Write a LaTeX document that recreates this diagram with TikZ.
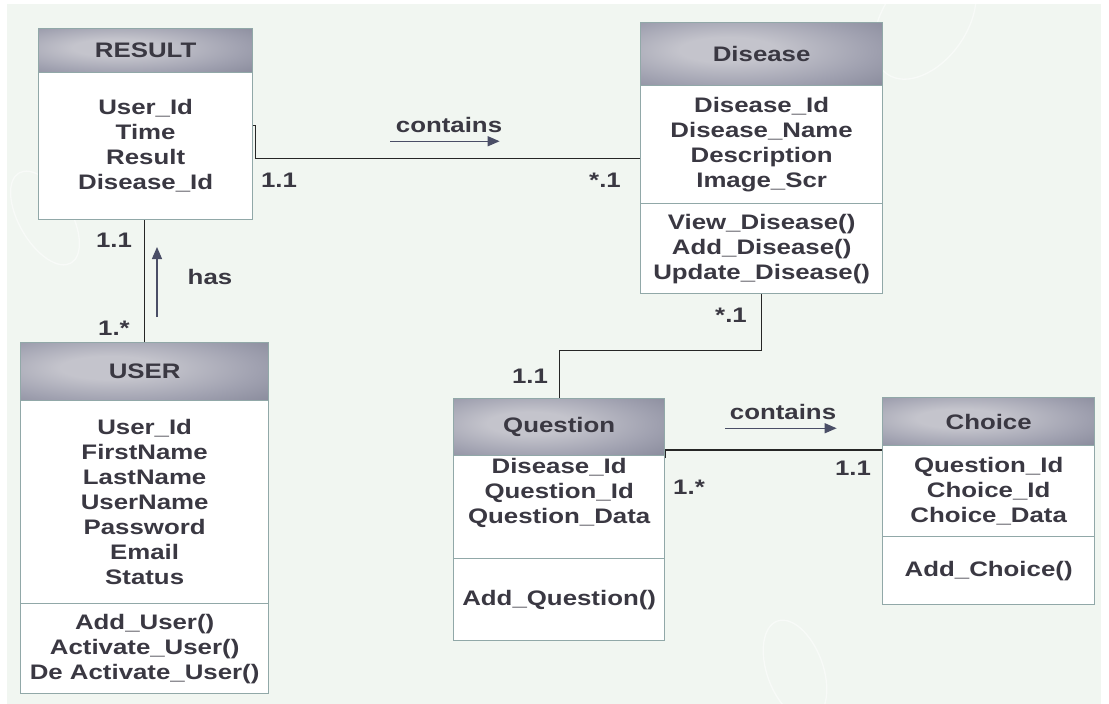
\documentclass[tikz,border=0pt]{standalone}
\usepackage{fontspec}
\setmainfont{Liberation Sans}[FakeStretch=1.23]
\usepackage{tikz}
\usetikzlibrary{calc}
\usetikzlibrary{arrows.meta}
\usetikzlibrary{positioning}
\definecolor{bgcol}{RGB}{241,246,241}
\definecolor{boxline}{RGB}{145,168,168}
\definecolor{headin}{RGB}{196,196,204}
\definecolor{headmid}{RGB}{160,161,176}
\definecolor{headout}{RGB}{126,128,146}
\definecolor{txtcol}{RGB}{58,56,66}
\definecolor{arrowcol}{RGB}{74,78,102}
\pgfdeclareradialshading{headshade}{\pgfpoint{-8bp}{4bp}}{%
    color(0bp)=(headin); color(10bp)=(headin);
    color(28bp)=(headmid); color(46bp)=(headout); color(80bp)=(headout)}
\tikzstyle{part} = [draw=boxline, line width=1.3pt, rectangle, anchor=north west,
    align=center, inner sep=0pt, text=txtcol,
    font=\bfseries\fontsize{21}{25}\selectfont]
\tikzstyle{head} = [part, shading=headshade]
\tikzstyle{body} = [part, fill=white]
\tikzstyle{mult} = [text=txtcol, font=\bfseries\fontsize{21}{25}\selectfont]
\tikzstyle{link} = [line width=1.2pt, black!85]
\tikzstyle{dirarrow} = [-{Triangle[length=12pt,width=10pt]}, line width=1.3pt, arrowcol]

\begin{document}
\begin{tikzpicture}[x=1pt,y=-1pt]
    \useasboundingbox (0,0) rectangle (1109,704);
    \fill[white] (0,0) rectangle (1109,704);
    \fill[bgcol] (7,4) rectangle (1101,704);
    % faint rings in the background
    \draw[white, line width=1.3pt, opacity=0.5, rotate around={30:(45,218)}]
        (45,218) ellipse (26 and 52);
    \draw[white, line width=1.3pt, opacity=0.5, rotate around={20:(795,670)}]
        (795,670) ellipse (28 and 52);
    \draw[white, line width=1.3pt, opacity=0.5, rotate around={-35:(925,20)}]
        (925,20) ellipse (42 and 66);
    % the classes
    \node [head, minimum width=214, minimum height=44] (result) at (38,28) {RESULT};
    \node [body, minimum width=214, minimum height=147] (resultattr) at (38,72)
        {User\_Id\\Time\\Result\\Disease\_Id};
    \node [head, minimum width=242, minimum height=63] (disease) at (640,22) {Disease};
    \node [body, minimum width=242, minimum height=118] (diseaseattr) at (640,85)
        {Disease\_Id\\Disease\_Name\\Description\\Image\_Scr};
    \node [body, minimum width=242, minimum height=90] (diseaseops) at (640,203)
        {View\_Disease()\\Add\_Disease()\\Update\_Disease()};
    \node [head, minimum width=248, minimum height=58] (user) at (20,342) {USER};
    \node [body, minimum width=248, minimum height=203] (userattr) at (20,400)
        {User\_Id\\FirstName\\LastName\\UserName\\Password\\Email\\Status};
    \node [body, minimum width=248, minimum height=90] (userops) at (20,603)
        {Add\_User()\\Activate\_User()\\De Activate\_User()};
    \node [head, minimum width=211, minimum height=57] (question) at (453,398) {Question};
    \node [body, minimum width=211, minimum height=103] (questionattr) at (453,455)
        {Disease\_Id\\Question\_Id\\Question\_Data\\[8pt]\mbox{}};
    \node [body, minimum width=211, minimum height=82] (questionops) at (453,558)
        {Add\_Question()};
    \node [head, minimum width=212, minimum height=48] (choice) at (882,397) {Choice};
    \node [body, minimum width=212, minimum height=91] (choiceattr) at (882,445)
        {Question\_Id\\Choice\_Id\\Choice\_Data};
    \node [body, minimum width=212, minimum height=68] (choiceops) at (882,536)
        {Add\_Choice()};
    % associations
    \draw [link] ([yshift=21pt]resultattr.east) -- ++(2,0) |- ([yshift=-14pt]diseaseattr.west);
    \draw [link] (diseaseops.south) -- ++(0,56) -| (question.north);
    \draw [link] ([yshift=-3pt]questionattr.north east) -- ++(0,-8) |- ([yshift=-5pt]choiceattr.north west);
    \draw [link] (user.north) -- (user.north |- resultattr.south);
    % names of the associations and their directions
    \node [mult] (containsone) at (449,125) {contains};
    \node [mult] (containstwo) at (783,412) {contains};
    \node [mult] (has) at (210,277) {has};
    \coordinate (hasfrom) at (157,317);
    \coordinate (hasto) at (157,247);
    \draw [dirarrow] ([yshift=-5pt,xshift=-2pt]containsone.south west) -- ([yshift=-5pt,xshift=-6pt]containsone.south east);
    \draw [dirarrow] ([yshift=-5pt,xshift=-1pt]containstwo.south west) -- ([yshift=-5pt,xshift=-3pt]containstwo.south east);
    \draw [dirarrow] (hasfrom) -- (hasto);
    % multiplicities
    \node [mult] (resultdisease) at (279,180) {1.1};
    \node [mult] (diseaseresult) at (605,180) {*.1};
    \node [mult] (resultuser) at (114,240) {1.1};
    \node [mult] (userresult) at (114,328) {1.*};
    \node [mult] (diseasequestion) at (731,315) {*.1};
    \node [mult] (questiondisease) at (530,376) {1.1};
    \node [mult] (questionchoice) at (689,487) {1.*};
    \node [mult] (choicequestion) at (853,468) {1.1};
\end{tikzpicture}
\end{document}
